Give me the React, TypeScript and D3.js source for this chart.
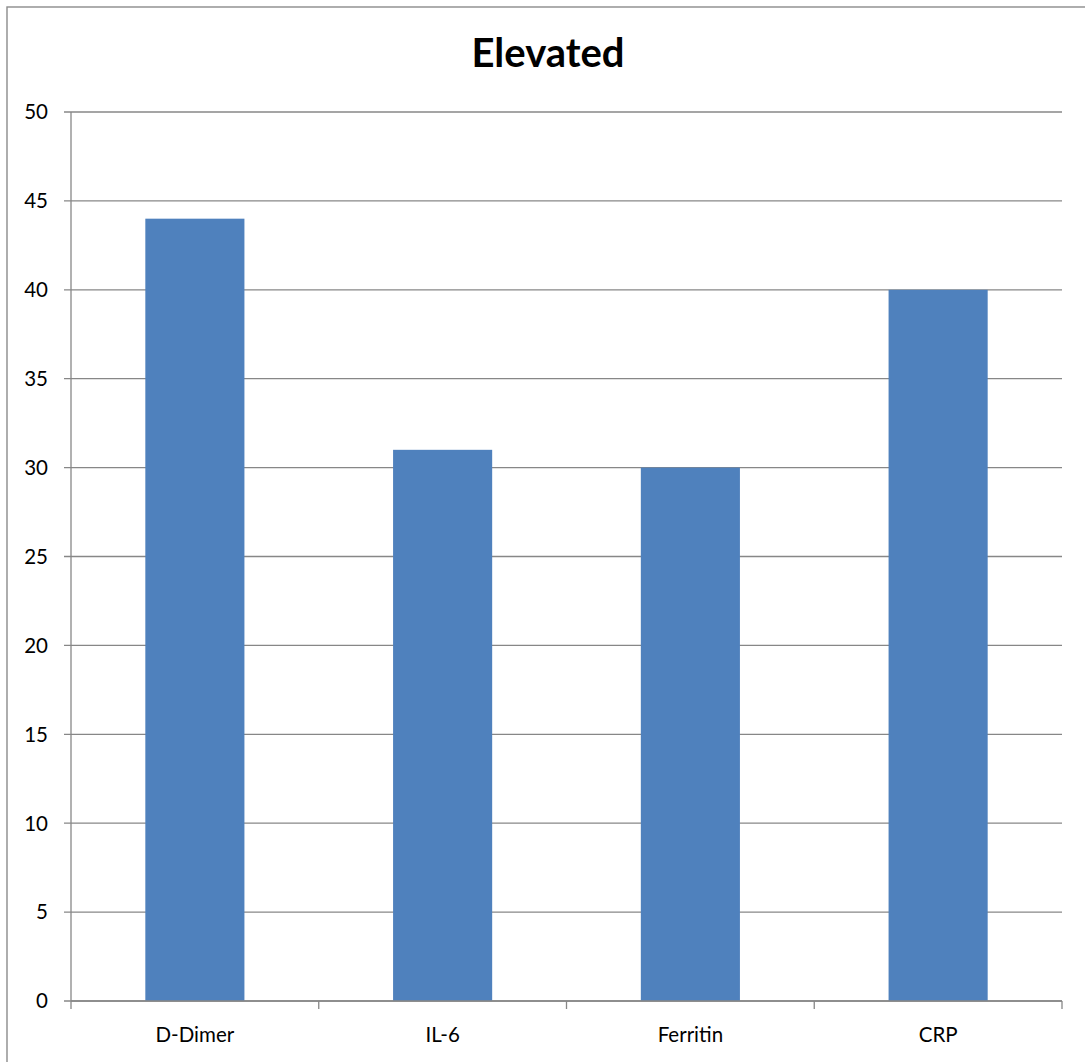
import React from "react";
import * as d3 from "d3";

const categories = ["D-Dimer", "IL-6", "Ferritin", "CRP"];
const values = [44, 31, 30, 40];
const yTicks = [0, 5, 10, 15, 20, 25, 30, 35, 40, 45, 50];
const title = "Elevated";

const W = 1085;
const H = 1062;
const plot = { left: 71, right: 1062, top: 112, bottom: 1001 };
const gridColor = "#878787";
const barColor = "#4F81BD";
const font = "Lato, 'Open Sans', sans-serif";

export default function App() {
  const x = d3
    .scaleBand<string>()
    .domain(categories)
    .range([plot.left, plot.right])
    .paddingInner(0.6)
    .paddingOuter(0.3);
  const y = d3.scaleLinear().domain([0, 50]).range([plot.bottom, plot.top]);
  const step = (plot.right - plot.left) / categories.length;
  const bounds = d3.range(categories.length + 1).map((i) => plot.left + i * step);

  return (
    <svg
      width={W}
      height={H}
      style={{ position: "absolute", left: 0, top: 0, display: "block", background: "#fff" }}
    >
      <rect x={7} y={7} width={W + 20} height={H + 20} fill="#fff" stroke="#8c8c8c" strokeWidth={1.4} />
      <text
        x={548}
        y={67}
        textAnchor="middle"
        fontFamily={font}
        fontWeight="bold"
        fontSize={40}
        fill="#000"
      >
        {title}
      </text>
      {yTicks.map((t) => (
        <g key={t}>
          <line x1={plot.left - 7} x2={plot.right} y1={y(t)} y2={y(t)} stroke={gridColor} strokeWidth={1.3} />
          <text
            x={48}
            y={y(t)}
            dy="0.36em"
            textAnchor="end"
            fontFamily={font}
            fontSize={20.5}
            fill="#000"
          >
            {t}
          </text>
        </g>
      ))}
      {categories.map((c, i) => (
        <rect
          key={c}
          x={x(c)}
          y={y(values[i])}
          width={x.bandwidth()}
          height={y(0) - y(values[i])}
          fill={barColor}
        />
      ))}
      <line x1={plot.left} x2={plot.left} y1={plot.top} y2={plot.bottom} stroke={gridColor} strokeWidth={1.3} />
      <line x1={plot.left} x2={plot.right} y1={plot.bottom} y2={plot.bottom} stroke={gridColor} strokeWidth={1.3} />
      {bounds.map((b, i) => (
        <line key={i} x1={b} x2={b} y1={plot.bottom} y2={plot.bottom + 8} stroke={gridColor} strokeWidth={1.3} />
      ))}
      {categories.map((c) => (
        <text
          key={c}
          x={(x(c) ?? 0) + x.bandwidth() / 2}
          y={1042}
          textAnchor="middle"
          fontFamily={font}
          fontSize={20.5}
          fill="#000"
        >
          {c}
        </text>
      ))}
    </svg>
  );
}
